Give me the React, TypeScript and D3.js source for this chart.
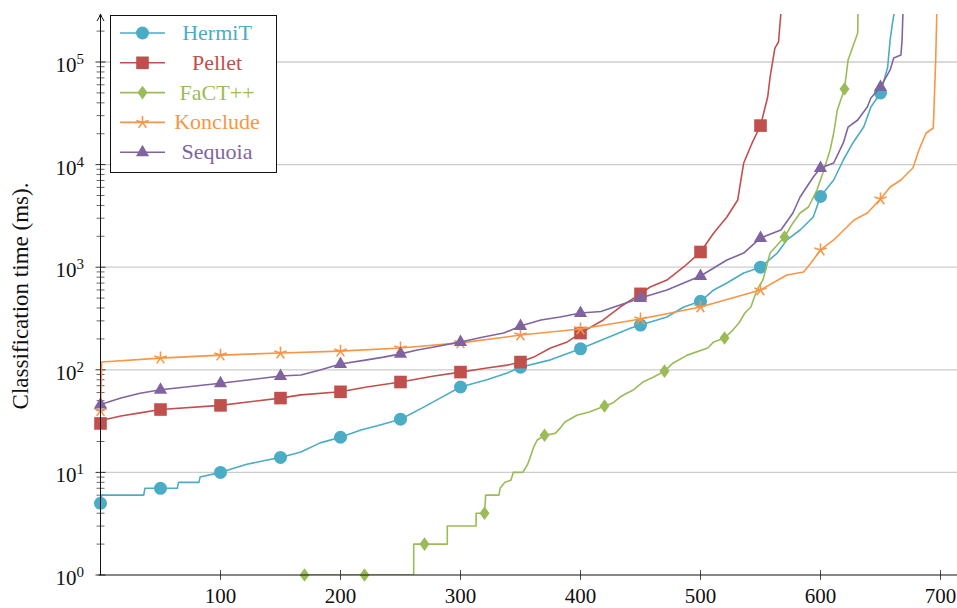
import React from "react";
import * as d3 from "d3";

type Pt = [number, number];

// x: number of ontologies (sorted), y: classification time (ms)
const hermit: Pt[] = [
  [0, 5], [1, 6], [36, 6], [37, 7], [64, 7], [65, 8], [82, 8], [83, 9], [100, 10], [111, 11], [122, 12],
  [136, 13], [150, 14], [167, 15.8], [183, 19.4], [200, 22], [217, 25.9], [233, 29], [250, 33], [269, 43],
  [283, 53], [300, 68], [322, 80], [339, 93], [350, 106], [375, 125], [400, 160], [442, 255], [450, 273],
  [472, 327], [486, 409], [500, 465], [511, 600], [522, 702], [536, 878], [550, 1000], [564, 1374],
  [572, 1842], [583, 2305], [594, 3085], [600, 4900], [611, 7080], [619, 11090], [627, 16250],
  [636, 23230], [642, 36400], [650, 49900], [656, 89400], [658, 163800], [660, 240000], [662, 330000],
  [663, 1e6],
];

const pellet: Pt[] = [
  [0, 30], [5, 33], [17, 35.5], [33, 38], [50, 41], [100, 45], [150, 53], [167, 57], [200, 61], [222, 68],
  [250, 76], [278, 87], [300, 95], [322, 104], [339, 111], [350, 119], [361, 133], [375, 163], [389, 187],
  [400, 228], [419, 306], [433, 409], [450, 550], [458, 641], [472, 750], [486, 1005], [500, 1407],
  [511, 2155], [522, 3085], [531, 4520], [536, 10370], [543, 16250], [547, 20320], [550, 24000],
  [556, 45600], [558, 71400], [562, 136800], [565, 156700], [567, 300000], [568, 1e6],
];

const fact: Pt[] = [
  [170, 1], [261, 1], [261, 2], [289, 2], [289, 3], [313, 3], [313, 4], [320, 4], [321, 6], [332, 6],
  [333, 7], [337, 8], [342, 8.4], [344, 10], [352, 10], [356, 12], [358, 14], [361, 17.7], [364, 20.7],
  [370, 23], [379, 24], [383, 27], [387, 31], [397, 36], [408, 39], [420, 44.4], [427, 47.5], [433, 54.3],
  [439, 59.4], [444, 63.6], [452, 76], [461, 85], [470, 97], [477, 116], [489, 139], [506, 163], [511, 187],
  [520, 204], [527, 244], [532, 286], [537, 358], [542, 409], [547, 600], [552, 750], [558, 1374],
  [570, 1970], [577, 2700], [583, 3375], [590, 3860], [597, 5650], [602, 8280], [608, 13870], [611, 20320],
  [614, 34000], [620, 54600], [623, 104600], [631, 192000], [632, 1e6],
];

const konclude: Pt[] = [
  [0, 40], [1, 119], [50, 130], [100, 139], [150, 146], [200, 152], [250, 163], [300, 183], [350, 218],
  [400, 250], [450, 313], [500, 409], [550, 600], [572, 840], [586, 898], [592, 1099], [600, 1472],
  [611, 1842], [628, 2884], [639, 3375], [650, 4620], [658, 6053], [667, 7080], [677, 9270], [682, 13870],
  [688, 20320], [694, 22750], [696, 104600], [698, 1e6],
];

const sequoia: Pt[] = [
  [0, 46], [17, 53], [33, 59], [50, 64], [100, 74], [150, 87], [167, 89], [183, 99.6], [200, 114],
  [222, 125], [236, 133], [250, 143], [264, 156], [278, 167], [300, 187], [319, 209], [336, 228],
  [350, 267], [367, 306], [383, 327], [400, 358], [417, 370], [433, 428], [450, 501], [472, 600],
  [486, 702], [500, 821], [522, 1175], [536, 1374], [550, 1928], [567, 2305], [577, 3375], [583, 4830],
  [594, 7570], [600, 9270], [611, 10370], [619, 16250], [623, 23230], [631, 27200], [639, 36400],
  [642, 44600], [650, 57000], [658, 83600], [661, 109400], [667, 117000], [668, 163800], [669, 400000],
  [670, 1e6],
];

const seriesNames = ["HermiT", "Pellet", "FaCT++", "Konclude", "Sequoia"];
const seriesColors = ["#4bacc6", "#c0504d", "#9bbb59", "#f79646", "#8064a2"];
const seriesMarks = ["circle", "square", "diamond", "star", "triangle"];
const seriesData = [hermit, pellet, fact, konclude, sequoia];
const markStart = [0, 0, 170, 0, 0];
const markEnd = [650, 550, 620, 650, 650];
const markStep = 50;

const xTicks = [100, 200, 300, 400, 500, 600, 700];
const yExps = [0, 1, 2, 3, 4, 5];

const W = 957;
const H = 608;
const left = 100.5;
const bottom = 575;
const top = 14;
const FONT = "'Liberation Serif', 'Times New Roman', serif";

const x = d3.scaleLinear().domain([0, 700]).range([left, left + 840]);
const y = d3.scaleLog().domain([1, 1e5]).range([bottom, 62]);

function valueAt(data: Pt[], xv: number): number {
  for (let i = 0; i < data.length; i++) {
    if (data[i][0] === xv) return data[i][1];
    if (i + 1 < data.length && data[i][0] < xv && data[i + 1][0] > xv) {
      const t = (xv - data[i][0]) / (data[i + 1][0] - data[i][0]);
      const l0 = Math.log10(data[i][1]);
      const l1 = Math.log10(data[i + 1][1]);
      return Math.pow(10, l0 + t * (l1 - l0));
    }
  }
  return data[data.length - 1][1];
}

function Marker({ kind, cx, cy, color }: { kind: string; cx: number; cy: number; color: string }) {
  if (kind === "circle") return <circle cx={cx} cy={cy} r={6.5} fill={color} />;
  if (kind === "square") return <rect x={cx - 6.3} y={cy - 6.3} width={12.6} height={12.6} fill={color} />;
  if (kind === "diamond")
    return <path d={`M${cx},${cy - 6.8}L${cx + 5},${cy}L${cx},${cy + 6.8}L${cx - 5},${cy}Z`} fill={color} />;
  if (kind === "triangle")
    return <path d={`M${cx},${cy - 7.5}L${cx + 6.6},${cy + 4}L${cx - 6.6},${cy + 4}Z`} fill={color} />;
  // star (5 spokes)
  const r = 6.5;
  const d = d3
    .range(5)
    .map((i) => {
      const a = (-90 + i * 72) * (Math.PI / 180);
      return `M${cx},${cy}L${cx + r * Math.cos(a)},${cy + r * Math.sin(a)}`;
    })
    .join("");
  return <path d={d} stroke={color} strokeWidth={1.6} fill="none" />;
}

export default function App() {
  const line = d3
    .line<Pt>()
    .x((d) => x(d[0]))
    .y((d) => y(d[1]));

  const minorTicks: number[] = [];
  for (let k = 0; k <= 5; k++) {
    for (let m = 2; m <= 9; m++) {
      const v = m * Math.pow(10, k);
      if (y(v) >= top + 4) minorTicks.push(v);
    }
  }

  return (
    <svg
      width={W}
      height={H}
      style={{ position: "absolute", left: 0, top: 0, background: "#fff" }}
      fontFamily={FONT}
    >
      <defs>
        <clipPath id="plotclip">
          <rect x={left} y={top} width={W - left + 10} height={bottom - top} />
        </clipPath>
      </defs>

      {/* grid */}
      {yExps
        .filter((k) => k > 0)
        .map((k) => (
          <line
            key={"g" + k}
            x1={left}
            x2={W}
            y1={y(Math.pow(10, k))}
            y2={y(Math.pow(10, k))}
            stroke="#cccccc"
            strokeWidth={1.3}
          />
        ))}

      {/* y ticks */}
      {minorTicks.map((v, i) => (
        <line key={"m" + i} x1={left - 4} x2={left + 4} y1={y(v)} y2={y(v)} stroke="#444" strokeWidth={0.8} />
      ))}
      {yExps.map((k) => (
        <line
          key={"t" + k}
          x1={left - 5}
          x2={left + 5}
          y1={y(Math.pow(10, k))}
          y2={y(Math.pow(10, k))}
          stroke="#333"
          strokeWidth={1}
        />
      ))}
      {yExps.map((k) => (
        <text key={"yl" + k} x={84} y={y(Math.pow(10, k)) + 10} fontSize={21} textAnchor="end" fill="#111">
          10
          <tspan dy={-8} fontSize={15}>
            {k}
          </tspan>
        </text>
      ))}

      {/* x ticks */}
      {xTicks.map((t) => (
        <g key={"x" + t}>
          <line x1={x(t)} x2={x(t)} y1={bottom - 5} y2={bottom + 5} stroke="#333" strokeWidth={0.9} />
          <text x={x(t)} y={bottom + 28} fontSize={21} textAnchor="middle" fill="#111">
            {t}
          </text>
        </g>
      ))}

      {/* series */}
      {seriesData.map((data, i) => {
        const marks: number[] = [];
        for (let m = markStart[i]; m <= markEnd[i]; m += markStep) marks.push(m);
        return (
          <g key={"s" + i}>
            <path
              d={line(data) || ""}
              fill="none"
              stroke={seriesColors[i]}
              strokeWidth={1.6}
              strokeLinejoin="round"
              clipPath="url(#plotclip)"
            />
            {marks.map((m) => (
              <Marker key={m} kind={seriesMarks[i]} cx={x(m)} cy={y(valueAt(data, m))} color={seriesColors[i]} />
            ))}
          </g>
        );
      })}

      {/* axes */}
      <line x1={left} x2={left} y1={bottom} y2={top} stroke="#111" strokeWidth={1} />
      <path d={`M${left - 3.5},${top + 7}Q${left - 1},${top + 3} ${left},${top}Q${left + 1},${top + 3} ${left + 3.5},${top + 7}`} fill="none" stroke="#111" strokeWidth={1} />
      <line x1={left - 2} x2={W + 5} y1={bottom} y2={bottom} stroke="#111" strokeWidth={1} />

      {/* y label */}
      <text
        transform={`translate(28,${296}) rotate(-90)`}
        textAnchor="middle"
        fontSize={23}
        fill="#111"
      >
        Classification time (ms).
      </text>

      {/* legend */}
      <rect x={110.5} y={15.5} width={166} height={157} fill="#fff" stroke="#111" strokeWidth={1} />
      {seriesNames.map((name, i) => {
        const ry = 33 + i * 29.8;
        return (
          <g key={"lg" + i}>
            <line x1={120} x2={165} y1={ry} y2={ry} stroke={seriesColors[i]} strokeWidth={1.6} />
            <Marker kind={seriesMarks[i]} cx={142.5} cy={ry} color={seriesColors[i]} />
            <text x={217} y={ry + 7} fontSize={22} textAnchor="middle" fill={seriesColors[i]}>
              {name}
            </text>
          </g>
        );
      })}
    </svg>
  );
}
